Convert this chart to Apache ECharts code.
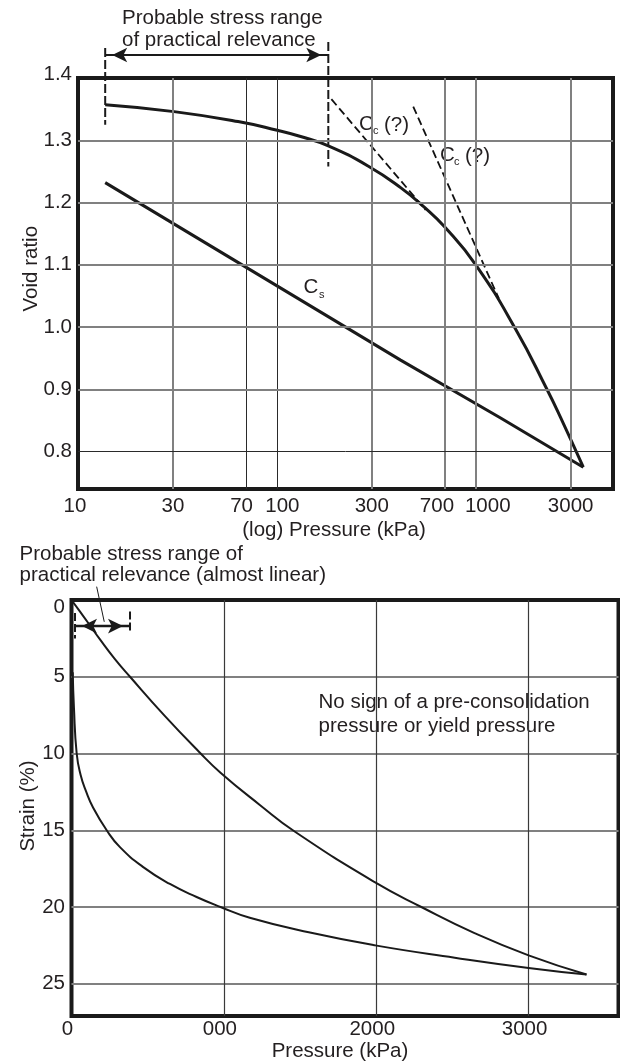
<!DOCTYPE html>
<html>
<head>
<meta charset="utf-8">
<script src="https://cdn.jsdelivr.net/npm/echarts@6/dist/echarts.min.js"></script>
<style>
html,body{margin:0;padding:0;background:#ffffff;}
#c{width:620px;height:1063px;}
</style>
</head>
<body>
<div id="c"></div>
<script>
// ================= DATA =================
// --- Upper chart: void ratio vs (log) pressure ---
const topXTickValues = [10, 30, 70, 100, 300, 700, 1000, 3000];
const topXTickLabels = ['10', '30', '70', '100', '300', '700', '1000', '3000'];
const topYTickValues = [0.8, 0.9, 1.0, 1.1, 1.2, 1.3, 1.4];
const topYTickLabels = ['0.8', '0.9', '1.0', '1.1', '1.2', '1.3', '1.4'];
const topXGridValues = [30, 70, 100, 300, 700, 1000, 3000];
const topYGridValues = [0.8, 0.9, 1.0, 1.1, 1.2, 1.3];

const loadingPressure = [13.7, 30.4, 63.8, 100.5, 131.7, 181.4, 290, 419, 549, 697, 1000, 1585, 2290, 2669, 3474];
const loadingVoidRatio = [1.357, 1.346, 1.330, 1.316, 1.306, 1.291, 1.258, 1.224, 1.193, 1.161, 1.100, 0.997, 0.899, 0.855, 0.775];

const unloadingPressure = [13.7, 419, 1334, 3474];
const unloadingVoidRatio = [1.232, 0.947, 0.854, 0.775];

const tangent1Pressure = [188, 560];
const tangent1VoidRatio = [1.366, 1.188];
const tangent2Pressure = [485, 1306];
const tangent2VoidRatio = [1.354, 1.046];

const topRangePressure = [13.7, 181.4];          // probable stress range bounds
const topRangeMarkTop = [1.448, 1.458];          // dashed marker upper ends
const topRangeMarkBottom = [1.325, 1.258];       // dashed marker lower ends
const topRangeArrowLevel = 1.437;

// --- Lower chart: strain vs pressure ---
const botXTickValues = [0, 1000, 2000, 3000];
const botXTickLabels = ['0', '000', '2000', '3000'];
const botYTickValues = [0, 5, 10, 15, 20, 25];
const botYTickLabels = ['0', '5', '10', '15', '20', '25'];

const curveAPressure = [0, 56, 110, 182, 285, 384, 612, 838, 978, 1236, 1467, 1993, 2296, 2645, 3000, 3380];
const curveAStrain = [0, 0.76, 1.5, 2.5, 3.85, 5.0, 7.55, 9.9, 11.25, 13.35, 15.1, 18.4, 20.0, 21.7, 23.15, 24.4];

const curveBPressure = [8, 16, 34, 60, 95, 143, 231, 318, 471, 646, 821, 978, 1170, 1557, 1993, 2515, 3000, 3380];
const curveBStrain = [4.7, 7.0, 10.0, 11.4, 12.45, 13.55, 15.0, 16.1, 17.4, 18.5, 19.35, 20.0, 20.7, 21.65, 22.5, 23.3, 23.97, 24.4];

const botRangePressure = [23, 384];
const botRangeMarkTop = [0.85, 0.75];
const botRangeMarkBottom = [2.5, 2.0];
const botRangeArrowLevel = 1.7;
const botPointerPressure = [165, 215];
const botPointerStrain = [-0.87, 1.42];

// ================= STYLE =================
const FONT = '"Liberation Sans", Arial, Helvetica, sans-serif';
const TXT = '#231f20';
const INK = '#1a1a1a';
const FS = 20.5;
const GRAY = {color: '#808080', width: 2, type: 'solid'};
const THIN = {color: '#2a2a2a', width: 1, type: 'solid'};
const thinTopX = new Set([70, 100]);
const thinTopY = new Set([0.8]);
// horizontal nudges of individual x tick labels (px, + = right), as in the original figure
const topXLabelNudge = {10: -3, 70: -4.5, 100: 5.5, 700: -8, 1000: 12};

const pairs = (xs, ys) => xs.map((x, i) => [x, ys[i]]);
const findIdx = (vals, v) => vals.findIndex(t => Math.abs(t - v) < 1e-6);
const labelFrom = (vals, labels) => (v) => {
  const i = findIdx(vals, v);
  return i >= 0 ? labels[i] : '';
};

const chart = echarts.init(document.getElementById('c'), null, {renderer: 'canvas', width: 620, height: 1063});

const txt = (text, x, y, o) => ({
  type: 'text', x: x, y: y, rotation: (o && o.rotation) || 0, silent: true,
  style: {
    text: text, fill: TXT, fontFamily: FONT, fontSize: (o && o.fontSize) || FS,
    align: (o && o.align) || 'left', verticalAlign: 'middle',
    textAlign: (o && o.align) || 'left', textVerticalAlign: 'middle'
  }
});

const topXFmt = labelFrom(topXTickValues, topXTickLabels);
const topYFmt = labelFrom(topYTickValues, topYTickLabels);
const botXFmt = labelFrom(botXTickValues, botXTickLabels);
const botYFmt = labelFrom(botYTickValues, botYTickLabels);

const topXRich = {};
topXTickValues.forEach((v, i) => {
  const n = topXLabelNudge[v] || 0;
  topXRich['t' + i] = {
    fontSize: FS, fontFamily: FONT, color: TXT,
    padding: n >= 0 ? [0, 0, 0, 2 * n] : [0, -2 * n, 0, 0]
  };
});

const arrowItems = (xs, level) => [
  {value: [xs[0], level], symbol: 'arrow', symbolSize: [11, 15], symbolRotate: 90, symbolOffset: [7, 0]},
  {value: [xs[1], level], symbol: 'arrow', symbolSize: [11, 15], symbolRotate: -90, symbolOffset: [-7, 0]}
];

const option = {
  backgroundColor: '#ffffff',
  animation: false,
  textStyle: {fontFamily: FONT, color: TXT},
  grid: [
    {left: 78, top: 78, width: 535, height: 411, show: true, borderColor: INK, borderWidth: 4, backgroundColor: 'transparent', outerBoundsMode: 'none', containLabel: false},
    {left: 71.5, top: 600, width: 547, height: 416, show: true, borderColor: INK, borderWidth: 4, backgroundColor: 'transparent', outerBoundsMode: 'none', containLabel: false}
  ],
  xAxis: [
    {
      type: 'log', logBase: 10, gridIndex: 0, min: 10, max: 4900,
      axisLine: {show: false}, axisTick: {show: false}, splitLine: {show: false}, minorSplitLine: {show: false},
      axisLabel: {
        customValues: topXTickValues,
        formatter: (v) => {
          const i = findIdx(topXTickValues, v);
          return i >= 0 ? '{t' + i + '|' + topXTickLabels[i] + '}' : '';
        },
        rich: topXRich,
        fontSize: FS, fontFamily: FONT, color: TXT, margin: 7, hideOverlap: false
      }
    },
    {
      type: 'value', gridIndex: 1, min: 0, max: 3590, interval: 1000,
      axisLine: {show: false}, axisTick: {show: false},
      splitLine: {show: true, showMinLine: false, showMaxLine: false, lineStyle: {color: '#3a3a3a', width: 1.2}},
      axisLabel: {formatter: botXFmt, fontSize: FS, fontFamily: FONT, color: TXT, margin: 3, showMaxLabel: false, padding: [0, 8, 0, 0], hideOverlap: false}
    }
  ],
  yAxis: [
    {
      type: 'value', gridIndex: 0, min: 0.74, max: 1.4,
      axisLine: {show: false}, axisTick: {show: false}, splitLine: {show: false},
      axisLabel: {
        customValues: topYTickValues,
        formatter: (v) => Math.abs(v - 1.4) < 1e-6 ? '{hi|' + topYFmt(v) + '}' : topYFmt(v),
        rich: {hi: {fontSize: FS, fontFamily: FONT, color: TXT, padding: [0, 0, 8, 0]}},
        fontSize: FS, fontFamily: FONT, color: TXT, margin: 6, hideOverlap: false
      }
    },
    {
      type: 'value', gridIndex: 1, min: 0, max: 27.1, interval: 5, inverse: true,
      axisLine: {show: false}, axisTick: {show: false},
      splitLine: {show: true, showMinLine: false, showMaxLine: false, lineStyle: {color: '#808080', width: 2}},
      axisLabel: {
        formatter: (v) => v === 0 ? '{lo|' + botYFmt(v) + '}' : botYFmt(v),
        rich: {lo: {fontSize: FS, fontFamily: FONT, color: TXT, padding: [14, 0, 0, 0]}},
        fontSize: FS, fontFamily: FONT, color: TXT, margin: 6.5, showMaxLabel: false, hideOverlap: false
      }
    }
  ],
  series: [
    // ---- gridlines of upper chart ----
    {
      type: 'line', xAxisIndex: 0, yAxisIndex: 0, data: [], z: 1, silent: true,
      markLine: {
        silent: true, animation: false, symbol: ['none', 'none'], label: {show: false},
        data: topXGridValues.map(v => ({xAxis: v, lineStyle: thinTopX.has(v) ? THIN : GRAY}))
          .concat(topYGridValues.map(v => ({yAxis: v, lineStyle: thinTopY.has(v) ? THIN : GRAY})))
      }
    },
    {
      name: 'Loading', type: 'line', xAxisIndex: 0, yAxisIndex: 0, z: 3,
      data: pairs(loadingPressure, loadingVoidRatio), smooth: 0.5, symbol: 'none',
      lineStyle: {color: INK, width: 3}
    },
    {
      name: 'Cs', type: 'line', xAxisIndex: 0, yAxisIndex: 0, z: 3,
      data: pairs(unloadingPressure, unloadingVoidRatio), symbol: 'none',
      lineStyle: {color: INK, width: 3}
    },
    {
      name: 'Cc1', type: 'line', xAxisIndex: 0, yAxisIndex: 0, z: 3,
      data: pairs(tangent1Pressure, tangent1VoidRatio), symbol: 'none',
      lineStyle: {color: '#111111', width: 1.8, type: [8, 4]}
    },
    {
      name: 'Cc2', type: 'line', xAxisIndex: 0, yAxisIndex: 0, z: 3,
      data: pairs(tangent2Pressure, tangent2VoidRatio), symbol: 'none',
      lineStyle: {color: '#111111', width: 1.8, type: [8, 4]}
    },
    {
      type: 'line', xAxisIndex: 0, yAxisIndex: 0, z: 4, clip: false, symbol: 'none',
      data: [[topRangePressure[0], topRangeMarkTop[0]], [topRangePressure[0], topRangeMarkBottom[0]]],
      lineStyle: {color: INK, width: 2, type: [9, 3]}
    },
    {
      type: 'line', xAxisIndex: 0, yAxisIndex: 0, z: 4, clip: false, symbol: 'none',
      data: [[topRangePressure[1], topRangeMarkTop[1]], [topRangePressure[1], topRangeMarkBottom[1]]],
      lineStyle: {color: INK, width: 2, type: [9, 3]}
    },
    {
      type: 'line', xAxisIndex: 0, yAxisIndex: 0, z: 4, clip: false,
      symbol: 'arrow', showSymbol: true, showAllSymbol: true,
      data: arrowItems(topRangePressure, topRangeArrowLevel),
      lineStyle: {color: INK, width: 2}, itemStyle: {color: INK, borderWidth: 0}
    },

    // ---- lower chart ----
    {
      name: 'Curve A', type: 'line', xAxisIndex: 1, yAxisIndex: 1, z: 3,
      data: pairs(curveAPressure, curveAStrain), smooth: 0.5, symbol: 'none',
      lineStyle: {color: INK, width: 2}
    },
    {
      name: 'Curve B', type: 'line', xAxisIndex: 1, yAxisIndex: 1, z: 3,
      data: pairs(curveBPressure, curveBStrain), smooth: 0.5, symbol: 'none',
      lineStyle: {color: INK, width: 2}
    },
    {
      type: 'line', xAxisIndex: 1, yAxisIndex: 1, z: 4, clip: false, symbol: 'none',
      data: [[botRangePressure[0], botRangeMarkTop[0]], [botRangePressure[0], botRangeMarkBottom[0]]],
      lineStyle: {color: INK, width: 2, type: [8, 3]}
    },
    {
      type: 'line', xAxisIndex: 1, yAxisIndex: 1, z: 4, clip: false, symbol: 'none',
      data: [[botRangePressure[1], botRangeMarkTop[1]], [botRangePressure[1], botRangeMarkBottom[1]]],
      lineStyle: {color: INK, width: 2, type: [8, 3]}
    },
    {
      type: 'line', xAxisIndex: 1, yAxisIndex: 1, z: 4, clip: false,
      symbol: 'arrow', showSymbol: true, showAllSymbol: true,
      data: arrowItems(botRangePressure, botRangeArrowLevel),
      lineStyle: {color: INK, width: 2.5}, itemStyle: {color: INK, borderWidth: 0}
    },
    {
      type: 'line', xAxisIndex: 1, yAxisIndex: 1, z: 4, clip: false, symbol: 'none',
      data: pairs(botPointerPressure, botPointerStrain),
      lineStyle: {color: INK, width: 1}
    }
  ],
  graphic: [
    txt('Probable stress range', 122, 18),
    txt('of practical relevance', 122, 40.5),
    txt('C', 359, 124),
    txt('c', 373, 130.5, {fontSize: 11}),
    txt('(?)', 384, 125),
    txt('C', 440, 155.8),
    txt('c', 454, 162, {fontSize: 11}),
    txt('(?)', 465, 156.5),
    txt('C', 303.5, 287.5),
    txt('s', 319, 294.5, {fontSize: 11}),
    txt('Void ratio', 31, 268.7, {align: 'center', rotation: Math.PI / 2}),
    txt('(log) Pressure (kPa)', 334, 530, {align: 'center'}),
    txt('Probable stress range of', 19.5, 554),
    txt('practical relevance (almost linear)', 19.5, 575),
    txt('No sign of a pre-consolidation', 318.5, 702.7),
    txt('pressure or yield pressure', 318.5, 726.7),
    txt('Strain (%)', 28.5, 806, {align: 'center', rotation: Math.PI / 2}),
    txt('Pressure (kPa)', 340, 1051, {align: 'center'})
  ]
};

chart.setOption(option);
</script>
</body>
</html>
